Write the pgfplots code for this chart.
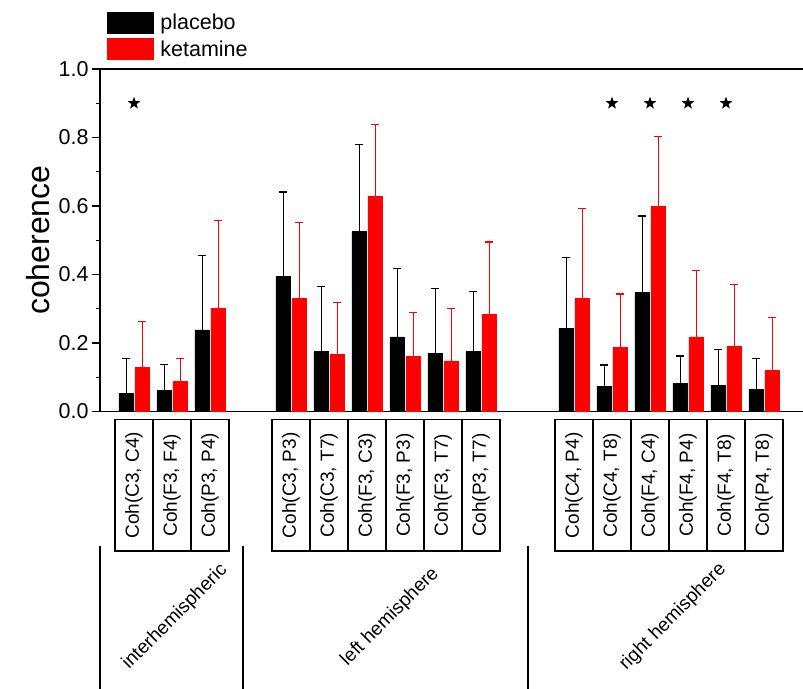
\documentclass[border=0pt]{standalone}
\usepackage{fontspec}
\setmainfont{Liberation Sans}
\usepackage{pgfplots}
\usepackage{pgfplotstable}
\pgfplotsset{compat=1.18}

\pgfdeclareplotmark{fstar}{%
  \pgfpathmoveto{\pgfpointpolar{90}{\pgfplotmarksize}}%
  \pgfpathlineto{\pgfpointpolar{126}{0.42\pgfplotmarksize}}%
  \pgfpathlineto{\pgfpointpolar{162}{\pgfplotmarksize}}%
  \pgfpathlineto{\pgfpointpolar{198}{0.42\pgfplotmarksize}}%
  \pgfpathlineto{\pgfpointpolar{234}{\pgfplotmarksize}}%
  \pgfpathlineto{\pgfpointpolar{270}{0.42\pgfplotmarksize}}%
  \pgfpathlineto{\pgfpointpolar{306}{\pgfplotmarksize}}%
  \pgfpathlineto{\pgfpointpolar{342}{0.42\pgfplotmarksize}}%
  \pgfpathlineto{\pgfpointpolar{18}{\pgfplotmarksize}}%
  \pgfpathlineto{\pgfpointpolar{54}{0.42\pgfplotmarksize}}%
  \pgfpathclose
  \pgfusepathqfill}

% xp/xk = bar positions (pt), p = placebo, pe = placebo error, k = ketamine, ke = ketamine error
\pgfplotstableread{
xp    p      pe     xk    k      ke
126   0.053  0.101  142   0.128  0.134
164   0.061  0.076  180   0.087  0.068
202   0.238  0.218  218   0.300  0.258
283   0.394  0.247  299   0.330  0.221
321   0.175  0.189  337   0.166  0.152
359   0.525  0.255  375   0.629  0.210
397   0.218  0.199  413   0.160  0.128
435   0.170  0.189  451   0.148  0.153
473   0.175  0.175  489   0.283  0.212
566   0.242  0.207  582   0.330  0.262
604   0.074  0.062  620   0.187  0.156
642   0.348  0.223  658   0.598  0.204
680   0.082  0.080  696   0.218  0.193
718   0.077  0.103  734   0.189  0.182
756   0.065  0.090  772   0.120  0.155
}\data

\pgfplotstableread{
x     y
134   0.9
612   0.9
650   0.9
688   0.9
726   0.9
}\stars

\begin{document}
\begin{tikzpicture}
\useasboundingbox (0,0) rectangle (803pt,688pt);
\begin{axis}[
  at={(100pt,276.5pt)}, anchor=south west,
  scale only axis, width=706pt, height=342.5pt,
  xmin=100, xmax=806, ymin=0, ymax=1,
  clip=false,
  axis line style={line width=1.2pt},
  tick style={line width=1.2pt, black},
  tick align=outside,
  major tick length=8pt, minor tick length=4pt,
  ytick={0,0.2,0.4,0.6,0.8,1},
  minor ytick={0.1,0.3,0.5,0.7,0.9},
  ytick pos=left,
  yticklabel style={/pgf/number format/fixed, /pgf/number format/precision=1,
    /pgf/number format/fixed zerofill, font=\fontsize{21.5}{24}\selectfont},
  /pgf/number format/assume math mode=true,
  xtick={134,172,210,291,329,367,405,443,481,574,612,650,688,726,764},
  xticklabels={{Coh(C3, C4)},{Coh(F3, F4)},{Coh(P3, P4)},
               {Coh(C3, P3)},{Coh(C3, T7)},{Coh(F3, C3)},{Coh(F3, P3)},{Coh(F3, T7)},{Coh(P3, T7)},
               {Coh(C4, P4)},{Coh(C4, T8)},{Coh(F4, C4)},{Coh(F4, P4)},{Coh(F4, T8)},{Coh(P4, T8)}},
  xtick style={draw=none},
  xtick pos=bottom,
  xticklabel style={rotate=90, anchor=east, draw=black, line width=1.2pt,
    minimum width=131.5pt, minimum height=38pt, inner sep=0pt, outer sep=0pt,
    font=\fontsize{19}{22}\selectfont},
  ylabel={coherence},
  ylabel style={at={(axis description cs:-0.0878,0.5)}, anchor=center,
    font=\fontsize{32}{36}\selectfont},
  legend style={at={(axis description cs:0.0099,1.1664)}, anchor=north west,
    draw=none, fill=none, inner sep=0pt, outer sep=0pt, row sep=5pt,
    nodes={inner sep=0pt, outer sep=0pt},
    font=\fontsize{21.5}{24}\selectfont,
    /tikz/every odd column/.append style={column sep=7pt}},
  legend cell align=left,
]
\addplot[ybar, bar width=14.4, bar shift=0pt, fill=black, draw=black, line width=0.6pt, forget plot,
  error bars/.cd, y dir=plus, y explicit, error mark=|,
  error bar style={line width=1pt, draw=black},
  error mark options={line width=1.2pt, mark size=4pt, draw=black}]
  table[x=xp, y=p, y error=pe] {\data};
\addplot[ybar, bar width=14.4, bar shift=0pt, fill=red, draw=red, line width=0.6pt, forget plot,
  error bars/.cd, y dir=plus, y explicit, error mark=|,
  error bar style={line width=1pt, draw=red},
  error mark options={line width=1.2pt, mark size=4pt, draw=red}]
  table[x=xk, y=k, y error=ke] {\data};
\addplot[only marks, mark=fstar, mark size=6.5pt, black, fill=black, forget plot]
  table[x=x, y=y] {\stars};

\addlegendimage{legend image code/.code={\fill[black] (0pt,-10.5pt) rectangle (46pt,10.5pt);}}
\addlegendentry{placebo}
\addlegendimage{legend image code/.code={\fill[red] (0pt,-10.5pt) rectangle (46pt,10.5pt);}}
\addlegendentry{ketamine}

\draw[line width=1.2pt] (axis cs:100,-0.392) -- (axis cs:100,-0.85);
\draw[line width=1.2pt] (axis cs:243,-0.392) -- (axis cs:243,-0.85);
\draw[line width=1.2pt] (axis cs:528,-0.392) -- (axis cs:528,-0.85);
\node[rotate=45, font=\fontsize{19}{22}\selectfont] at (axis cs:175,-0.6) {interhemispheric};
\node[rotate=45, font=\fontsize{19}{22}\selectfont] at (axis cs:390,-0.6) {left hemisphere};
\node[rotate=45, font=\fontsize{19}{22}\selectfont] at (axis cs:673,-0.6) {right hemisphere};
\end{axis}
\end{tikzpicture}
\end{document}
